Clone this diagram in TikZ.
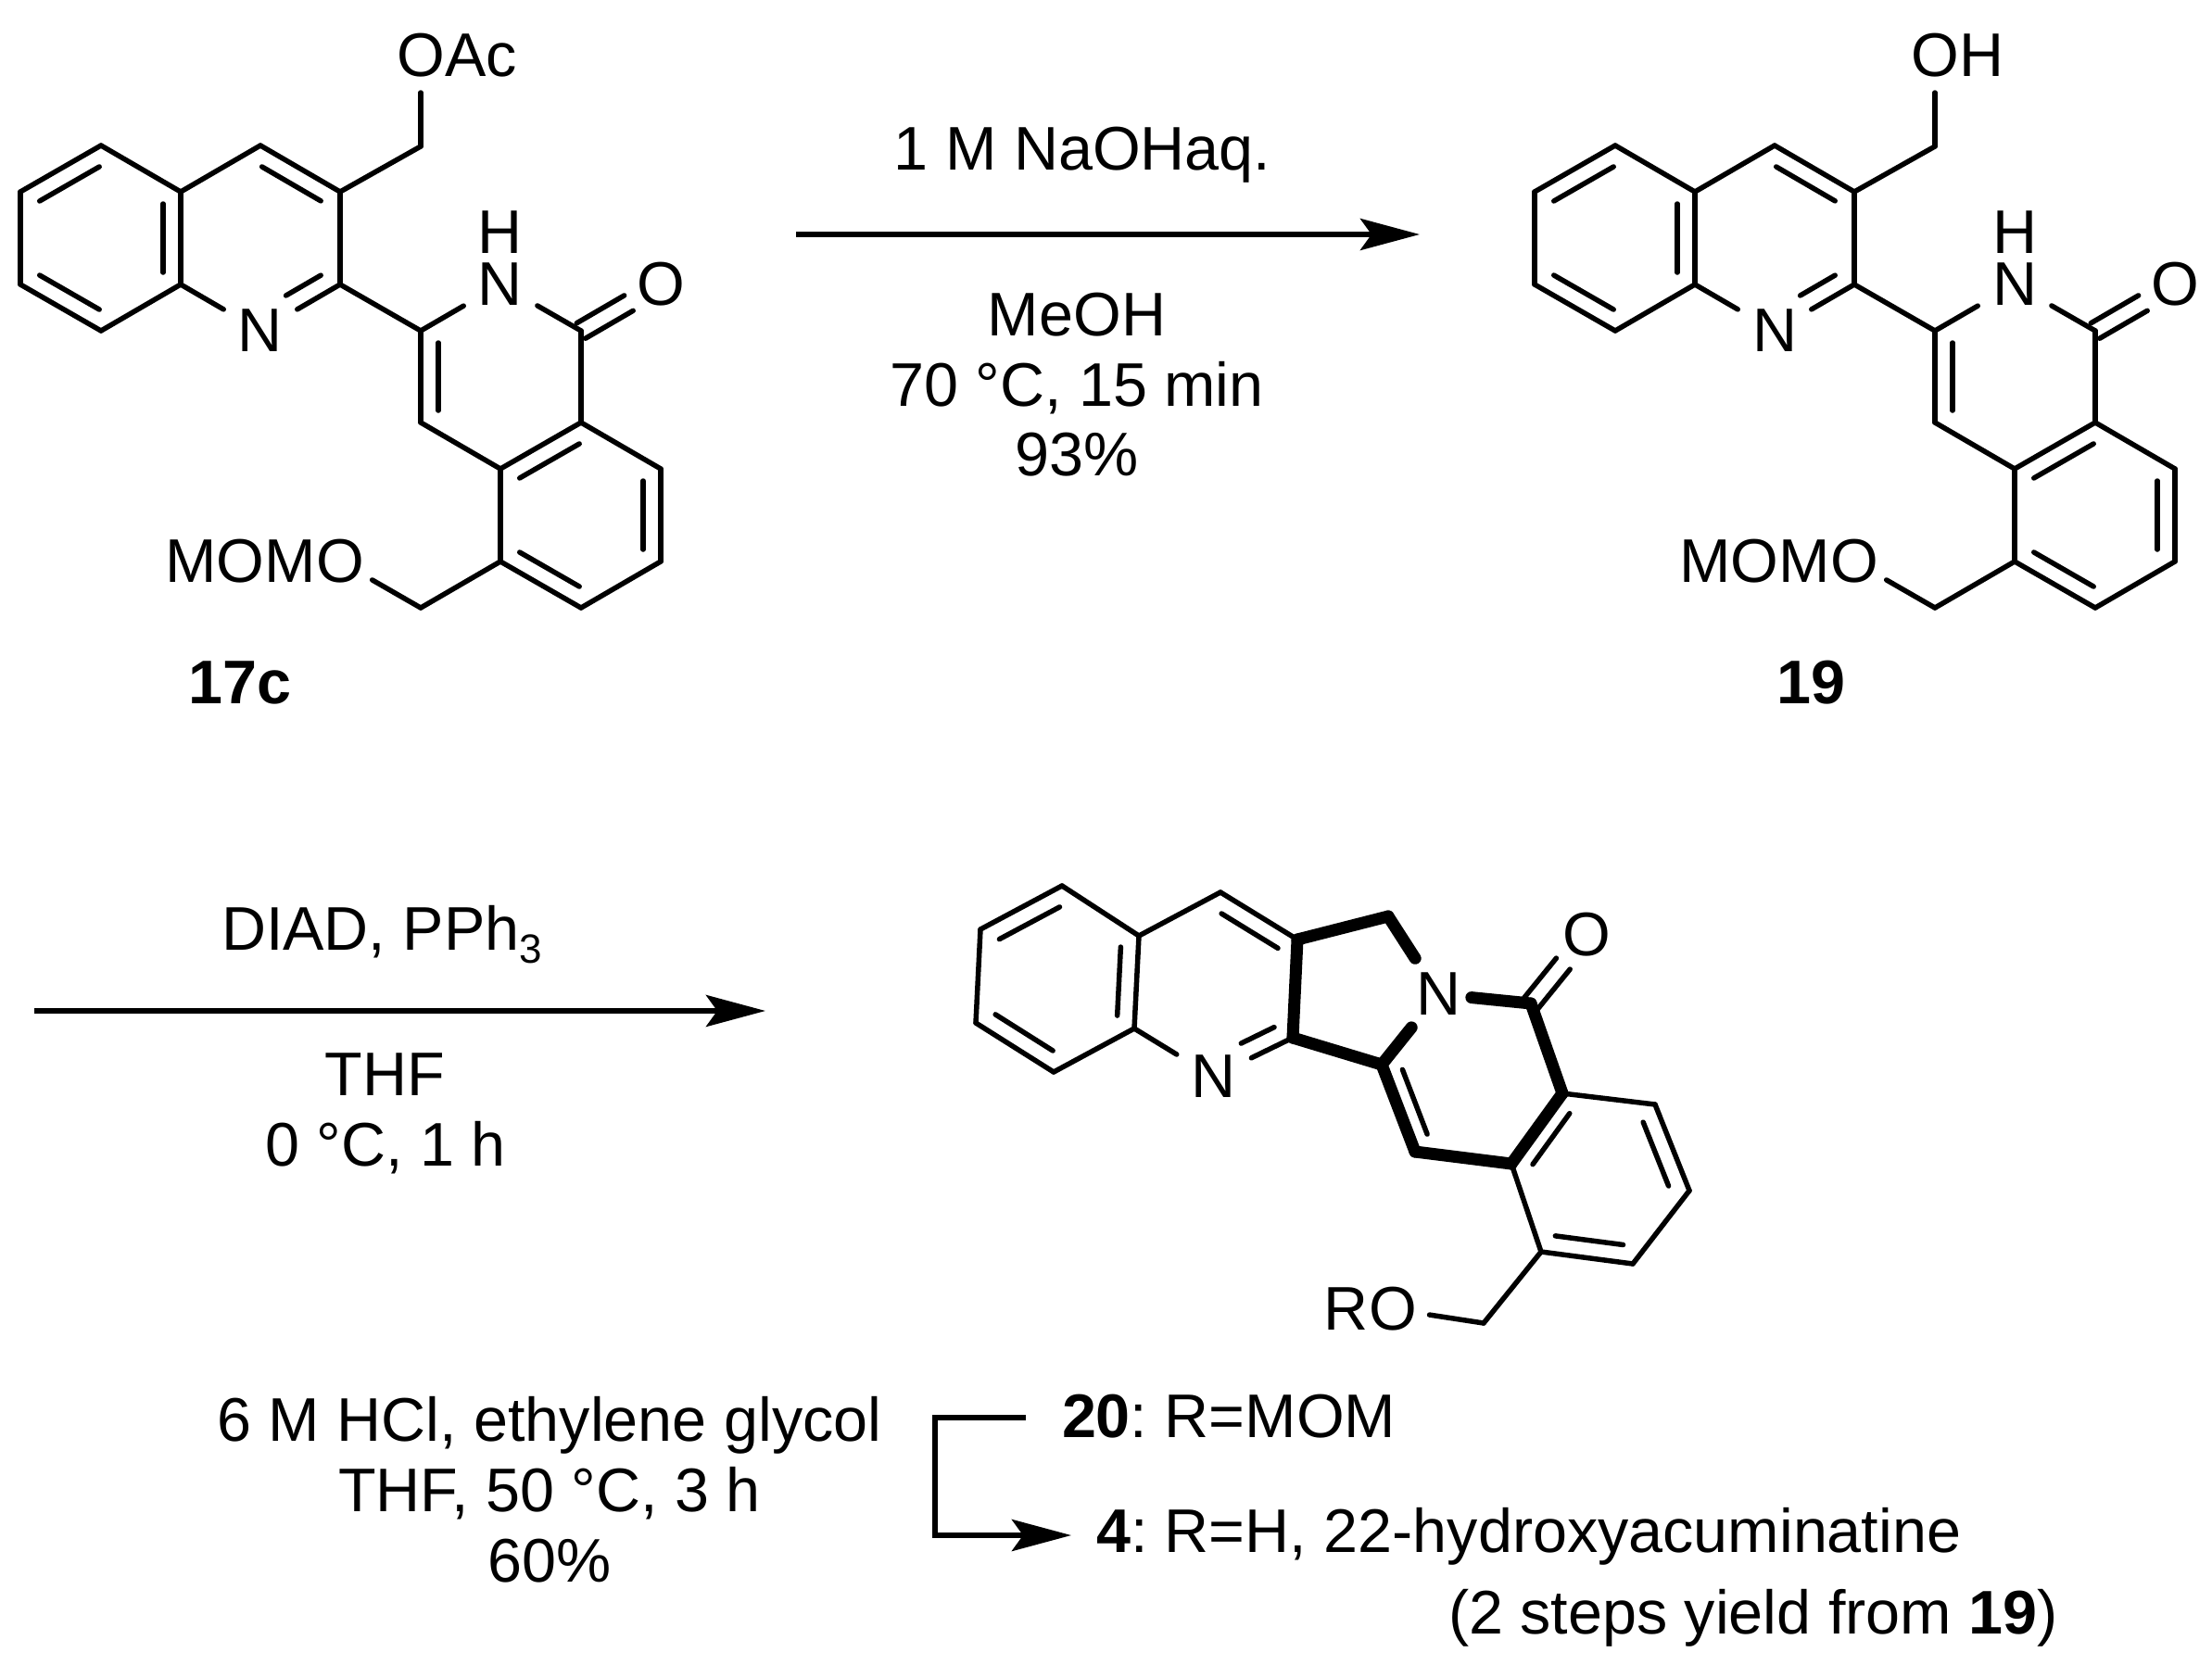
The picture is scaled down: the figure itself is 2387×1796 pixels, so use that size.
\documentclass[tikz,border=0pt]{standalone}
\usepackage{fontspec}
\setmainfont{Liberation Sans}
\usetikzlibrary{calc,arrows.meta}

% inner line of a double bond, on the left of a->b
\newcommand{\inbond}[3][13]{\draw[bond] ($(#2)!#1pt!(#3)!19pt!90:(#3)$) -- ($(#3)!13pt!(#2)!19pt!-90:(#2)$);}
% carbonyl, two lines round the axis
\newcommand{\cobond}[2]{
	\draw[bond,shorten >=40pt] ($(#1)!9.5pt!90:(#2)$) -- ($(#2)!9.5pt!-90:(#1)$);
	\draw[bond,shorten >=40pt] ($(#1)!9.5pt!-90:(#2)$) -- ($(#2)!9.5pt!90:(#1)$);
}

\begin{document}
\begin{tikzpicture}
		[x=1pt,y=-1pt,
		bond/.style={line width=5.5pt,line cap=round},
		every edge/.style={draw,bond},
		hv/.style={line width=13pt},
		c/.style={coordinate},
		lb/.style={font=\fontsize{66.5}{76}\selectfont\frenchspacing,inner sep=0,outer sep=0},
		het/.style={lb,circle,minimum size=92pt},
		oxy/.style={lb,circle,minimum size=80pt},
		rx/.style={line width=6pt,-{Stealth[length=64pt,width=34pt,inset=12pt]}}]

		\useasboundingbox (0,0) rectangle (2387,1796);

		% 17c and 19
		\foreach \m/\dx/\tail in {p/0/Ac,r/1634/H} {
		\begin{scope}[shift={(\dx,0)}]
			\node[c] (\m a1) at (109,157) {};
			\node[c] (\m a2) at (22,207) {}
				edge (\m a1)
			;
			\node[c] (\m a3) at (22,307) {}
				edge (\m a2)
			;
			\node[c] (\m a4) at (109,357) {}
				edge (\m a3)
			;
			\node[c] (\m a5) at (195,307) {}
				edge (\m a4)
			;
			\node[c] (\m a6) at (195,207) {}
				edge (\m a5)
				edge (\m a1)
			;
			\node[c] (\m a7) at (281,157) {}
				edge (\m a6)
			;
			\node[c] (\m a8) at (367,207) {}
				edge (\m a7)
			;
			\node[c] (\m a9) at (367,307) {}
				edge (\m a8)
			;
			\node[het] (\m n1) at (281,357) {N}
				edge (\m a5)
				edge (\m a9)
			;
			\node[c] (\m b1) at (454,158) {}
				edge (\m a8)
			;
			\node[oxy] (\m o1) at (454,60) {O}
				edge (\m b1)
			;
			\node[lb,anchor=west] (\m t1) at (480,60) {\tail};

			\node[c] (\m c3) at (454,357) {}
				edge (\m a9)
			;
			\node[het] (\m n2) at (540,307) {N}
				edge (\m c3)
			;
			\node[lb] (\m h2) at (540,251) {H};
			\node[c] (\m c1) at (627,357) {}
				edge (\m n2)
			;
			\node[oxy] (\m o2) at (713,307) {O};
			\node[c] (\m c4) at (454,456) {}
				edge (\m c3)
			;
			\node[c] (\m d4) at (540,506) {}
				edge (\m c4)
			;
			\node[c] (\m d8) at (627,456) {}
				edge (\m d4)
				edge (\m c1)
			;
			\node[c] (\m c8) at (713,506) {}
				edge (\m d8)
			;
			\node[c] (\m c7) at (713,606) {}
				edge (\m c8)
			;
			\node[c] (\m c6) at (627,656) {}
				edge (\m c7)
			;
			\node[c] (\m c5) at (540,606) {}
				edge (\m c6)
				edge (\m d4)
			;
			\node[c] (\m b2) at (454,656) {}
				edge (\m c5)
			;
			\node[oxy] (\m o3) at (367,606) {O}
				edge (\m b2)
			;
			\node[lb,anchor=east] (\m t3) at (341,606) {MOM};

			\inbond{\m a1}{\m a2}
			\inbond{\m a3}{\m a4}
			\inbond{\m a5}{\m a6}
			\inbond[43]{\m n1}{\m a9}
			\inbond{\m a8}{\m a7}
			\inbond{\m c3}{\m c4}
			\inbond{\m d8}{\m d4}
			\inbond{\m c5}{\m c6}
			\inbond{\m c7}{\m c8}
			\cobond{\m c1}{\m o2}
		\end{scope}
		}
		\node[lb,anchor=base] (l17) at (259,759) {\textbf{17c}};
		\node[lb,anchor=base] (l19) at (1954,759) {\textbf{19}};

		% first arrow
		\coordinate (s1) at (859,253);
		\coordinate (e1) at (1532,253);
		\draw[rx] (s1) -- (e1);
		\node[lb,anchor=base] (t11) at (1168,183) {1 M NaOHaq.};
		\node[lb,anchor=base] (t12) at (1162,362) {MeOH};
		\node[lb,anchor=base] (t13) at (1162,438) {70 °C, 15 min};
		\node[lb,anchor=base] (t14) at (1162,513) {93\%};

		% second arrow
		\coordinate (s2) at (37,1091);
		\coordinate (e2) at (826,1091);
		\draw[rx] (s2) -- (e2);
		\node[lb,anchor=base] (t21) at (412,1025) {DIAD, PPh\raisebox{-14pt}{\fontsize{44}{44}\selectfont 3}};
		\node[lb,anchor=base] (t22) at (415,1182) {THF};
		\node[lb,anchor=base] (t23) at (416,1258) {0 °C, 1 h};

		% 20 / 4
		\node[c] (q1) at (1146,956) {};
		\node[c] (q2) at (1058,1003) {}
			edge (q1)
		;
		\node[c] (q3) at (1053,1104) {}
			edge (q2)
		;
		\node[c] (q4) at (1137,1157) {}
			edge (q3)
		;
		\node[c] (q5) at (1224,1110) {}
			edge (q4)
		;
		\node[c] (q6) at (1229,1010) {}
			edge (q5)
			edge (q1)
		;
		\node[c] (q7) at (1317,963) {}
			edge (q6)
		;
		\node[c] (q8) at (1400,1014) {}
			edge (q7)
		;
		\node[c] (q9) at (1395,1120) {}
			edge[hv] (q8)
		;
		\node[het] (qn1) at (1309,1162) {N}
			edge (q5)
			edge (q9)
		;
		\node[c] (qb) at (1498,989) {}
			edge[hv] (q8)
		;
		\node[het] (qn2) at (1552,1073) {N}
			edge[hv] (qb)
		;
		\node[c] (qc) at (1652,1083) {}
			edge[hv,shorten >=-10pt] (qn2)
		;
		\node[oxy] (qo) at (1712,1009) {O};
		\node[c] (r3) at (1491,1149) {}
			edge[hv] (q9)
			edge[hv] (qn2)
		;
		\node[c] (r4) at (1527,1243) {}
			edge[hv] (r3)
		;
		\node[c] (s4) at (1631,1256) {}
			edge[hv] (r4)
		;
		\node[c] (s8) at (1686,1180) {}
			edge[hv] (s4)
			edge[hv] (qc)
		;
		\node[c] (r8) at (1786,1192) {}
			edge (s8)
		;
		\node[c] (r7) at (1823,1285) {}
			edge (r8)
		;
		\node[c] (r6) at (1762,1364) {}
			edge (r7)
		;
		\node[c] (r5) at (1663,1351) {}
			edge (r6)
			edge (s4)
		;
		\node[c] (qd) at (1601,1428) {}
			edge (r5)
		;
		\node[oxy] (qo2) at (1503,1413) {O}
			edge (qd)
		;
		\node[lb,anchor=east] (qr) at (1477,1413) {R};

		\inbond{q1}{q2}
		\inbond{q3}{q4}
		\inbond{q5}{q6}
		\inbond[43]{qn1}{q9}
		\inbond{q8}{q7}
		\inbond{r3}{r4}
		\inbond{s8}{s4}
		\inbond{r5}{r6}
		\inbond{r7}{r8}
		\cobond{qc}{qo}

		% deprotection
		\node[lb,anchor=base] (t31) at (593,1555) {6 M HCl, ethylene glycol};
		\node[lb,anchor=base] (t32) at (593,1631) {THF, 50 °C, 3 h};
		\node[lb,anchor=base] (t33) at (593,1707) {60\%};

		\coordinate (f1) at (1107,1530);
		\coordinate (f2) at (1009,1530);
		\coordinate (f3) at (1009,1657);
		\coordinate (f4) at (1156,1657);
		\draw[rx] (f1) -- (f2) -- (f3) -- (f4);

		\node[lb,anchor=base west] (c20) at (1146,1551) {\textbf{20}: R=MOM};
		\node[lb,anchor=base west] (c4) at (1183,1675) {\textbf{4}: R=H, 22-hydroxyacuminatine};
		\node[lb,anchor=base west] (c5) at (1563,1763) {(2 steps yield from \textbf{19})};
\end{tikzpicture}
\end{document}
